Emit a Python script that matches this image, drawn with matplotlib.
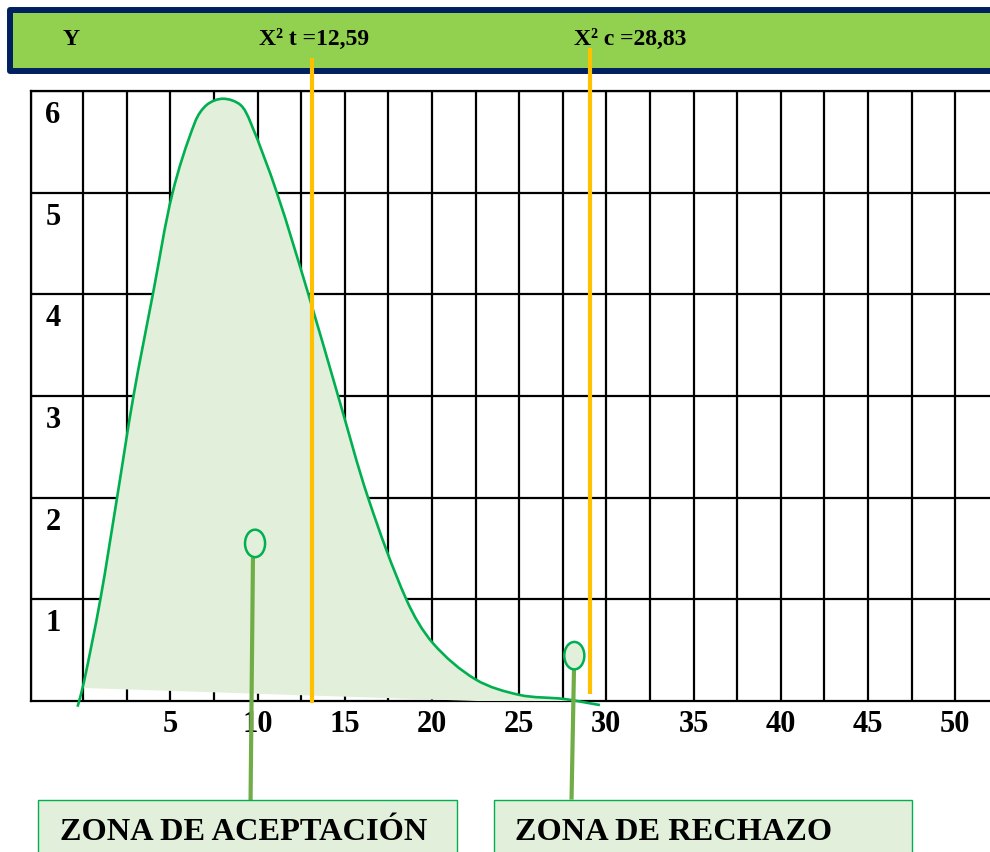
import matplotlib
matplotlib.use("Agg")
import matplotlib.pyplot as plt
from matplotlib.patches import Ellipse, Rectangle, PathPatch
from matplotlib.path import Path

# ---------------- data ----------------
curve_x = [-0.33, 0.02, 0.97, 1.93, 2.87, 4.01, 5.12, 6.42, 7.09, 8.01, 9.00,
           9.57, 11.10, 12.91, 14.63, 16.35, 18.55, 20.07, 22.52, 25.04,
           27.56, 29.63]
curve_y = [-0.056, 0.174, 0.993, 1.994, 2.993, 4.02, 5.00, 5.70, 5.865, 5.924,
           5.865, 5.70, 5.00, 4.00, 2.99, 1.99, 0.99, 0.565, 0.21, 0.059,
           0.02, -0.04]
fill_bottom_x = [29.63, 0.0]
fill_bottom_y = [-0.04, 0.128]

x_ticks = [5, 10, 15, 20, 25, 30, 35, 40, 45, 50]
x_tick_labels = ["5", "10", "15", "20", "25", "30", "35", "40", "45", "50"]
y_ticks = [1, 2, 3, 4, 5, 6]
y_tick_labels = ["1", "2", "3", "4", "5", "6"]

grid_x = [-3, 0, 2.5, 5, 7.5, 10, 12.5, 15, 17.5, 20, 22.5, 25, 27.5, 30, 32.5,
          35, 37.5, 40, 42.5, 45, 47.5, 50]
grid_y = [1, 2, 3, 4, 5, 6]

chi_t_pos = 13.09     # drawn position of the X² t line
chi_c_pos = 29.08     # drawn position of the X² c line
header_labels = ["Y", "X\u00b2 t =12,59", "X\u00b2 c =28,83"]
zone_labels = ["ZONA DE ACEPTACIÓN", "ZONA DE RECHAZO"]

# ---------------- style ----------------
FONT = "Liberation Serif"
C_FILL = "#E2EFDA"
C_CURVE = "#00B050"
C_ORANGE = "#FFC000"
C_CONN = "#70AD47"
C_BANNER = "#92D050"
C_NAVY = "#002060"

W, H = 990, 852
XL, YL = (-3, 52), (0, 6)
AX_W_PX, AX_H_PX = 959, 610
SX = AX_W_PX / (XL[1] - XL[0])
SY = AX_H_PX / (YL[1] - YL[0])


def smooth_path_parts(xs, ys):
    """Cubic Bezier segments through every given point (chord-length Hermite)."""
    pts = list(zip(xs, ys))
    n = len(pts)
    t = [0.0]
    for i in range(1, n):
        dx = (pts[i][0] - pts[i - 1][0]) * SX
        dy = (pts[i][1] - pts[i - 1][1]) * SY
        t.append(t[-1] + (dx * dx + dy * dy) ** 0.5)
    tang = []
    for i in range(n):
        a = max(i - 1, 0)
        b = min(i + 1, n - 1)
        dt = t[b] - t[a]
        tang.append(((pts[b][0] - pts[a][0]) / dt, (pts[b][1] - pts[a][1]) / dt))
    verts = [pts[0]]
    codes = [Path.MOVETO]
    for i in range(n - 1):
        h = t[i + 1] - t[i]
        p1, p2 = pts[i], pts[i + 1]
        c1 = (p1[0] + tang[i][0] * h / 3, p1[1] + tang[i][1] * h / 3)
        c2 = (p2[0] - tang[i + 1][0] * h / 3, p2[1] - tang[i + 1][1] * h / 3)
        verts += [c1, c2, p2]
        codes += [Path.CURVE4] * 3
    return verts, codes


fig = plt.figure(figsize=(W / 100, H / 100), dpi=100)
fig.patch.set_facecolor("white")

ax = fig.add_axes([31 / W, 151 / H, AX_W_PX / W, AX_H_PX / H])
ax.set_xlim(*XL)
ax.set_ylim(*YL)
ax.patch.set_alpha(0)

# grid
ax.vlines(grid_x, 0, 6, colors="black", lw=1.6, zorder=1)
ax.hlines(grid_y, -3, 52, colors="black", lw=1.6, zorder=1)
ax.spines["right"].set_visible(False)
for s in ["left", "top", "bottom"]:
    ax.spines[s].set_linewidth(1.6)
    ax.spines[s].set_zorder(1)

# filled area (from x=0 onward) and curve
fv, fc = smooth_path_parts(curve_x[1:], curve_y[1:])
for bx, by in zip(fill_bottom_x, fill_bottom_y):
    fv.append((bx, by))
    fc.append(Path.LINETO)
fv.append((0, 0))
fc.append(Path.CLOSEPOLY)
ax.add_patch(PathPatch(Path(fv, fc), facecolor=C_FILL, edgecolor="none",
                       lw=0, zorder=2))

cv, cc = smooth_path_parts(curve_x, curve_y)
ax.add_patch(PathPatch(Path(cv, cc), facecolor="none", edgecolor=C_CURVE,
                       lw=1.9, zorder=3, clip_on=False, capstyle="butt"))

# orange critical lines
ax.plot([chi_t_pos, chi_t_pos], [-0.02, 6.325], color=C_ORANGE, lw=3.0,
        zorder=5, clip_on=False, solid_capstyle="butt")
ax.plot([chi_c_pos, chi_c_pos], [0.07, 6.42], color=C_ORANGE, lw=3.0,
        zorder=5, clip_on=False, solid_capstyle="butt")

# callout connectors + ellipses
ax.plot([9.73, 9.59], [1.41, -1.01], color=C_CONN, lw=3.0, zorder=4,
        clip_on=False, solid_capstyle="butt")
ax.plot([28.14, 28.0], [0.305, -0.97], color=C_CONN, lw=3.0, zorder=4,
        clip_on=False, solid_capstyle="butt")
ax.add_patch(Ellipse((9.85, 1.55), 1.15, 0.27, facecolor=C_FILL,
                     edgecolor=C_CURVE, lw=1.8, zorder=6, clip_on=False))
ax.add_patch(Ellipse((28.16, 0.446), 1.15, 0.27, facecolor=C_FILL,
                     edgecolor=C_CURVE, lw=1.8, zorder=6, clip_on=False))

# ticks
ax.set_xticks(x_ticks)
ax.set_xticklabels(x_tick_labels, fontfamily=FONT, fontweight="bold", fontsize=22)
ax.tick_params(axis="x", length=0, pad=6.5)
ax.set_yticks([])
for v, lab in zip(y_ticks, y_tick_labels):
    ax.text(-1.74, v - 0.315, lab, ha="center", va="baseline",
            fontfamily=FONT, fontweight="bold", fontsize=22, zorder=3)

# banner at the top
fig.patches.append(Rectangle((9.7 / W, (H - 71.2) / H), 1.2, (71.2 - 9.7) / H,
                             transform=fig.transFigure, facecolor=C_BANNER,
                             edgecolor=C_NAVY, lw=4.3, zorder=-1,
                             joinstyle="round"))
for x0, lab in zip([63, 259, 574], header_labels):
    fig.text(x0 / W, (H - 45) / H, lab, ha="left", va="baseline",
             fontfamily=FONT, fontweight="bold", fontsize=17)

# zone boxes at the bottom
for x0, x1, tx, lab in [(38.3, 456.7, 60, zone_labels[0]),
                         (494.0, 912.3, 515, zone_labels[1])]:
    fig.patches.append(Rectangle((x0 / W, -20 / H), (x1 - x0) / W, (52 + 20) / H,
                                 transform=fig.transFigure, facecolor=C_FILL,
                                 edgecolor=C_CURVE, lw=1.0, zorder=5))
    fig.text(tx / W, (H - 840.5) / H, lab, ha="left", va="baseline",
             fontfamily=FONT, fontweight="bold", fontsize=23.3, zorder=6)

fig.savefig("out.png", dpi=100)
